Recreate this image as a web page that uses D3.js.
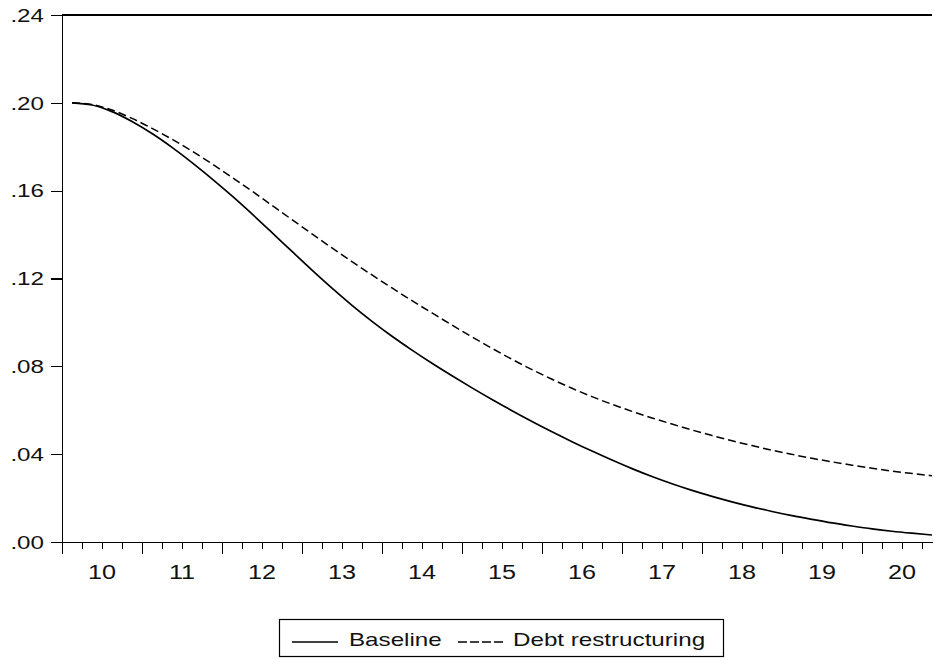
<!DOCTYPE html>
<html><head><meta charset="utf-8">
<script src="https://cdn.jsdelivr.net/npm/d3@7"></script>
<style>body{margin:0;background:#fff}svg{display:block}</style>
</head><body><svg id="c" width="934" height="659"></svg>
<script>
// ---- data ----
const yearLabels = ["10","11","12","13","14","15","16","17","18","19","20"];
const quartersPerYear = 4;
const baseline = [
  0.2000,0.1990,0.1960,0.1915,0.1860,0.1797,0.1728,0.1654,0.1576,0.1494,0.1409,
  0.1323,0.1238,0.1156,0.1078,0.1005,0.0937,0.0874,0.0814,0.0757,0.0702,0.0649,
  0.0598,0.0549,0.0502,0.0457,0.0414,0.0373,0.0334,0.0298,0.0265,0.0235,0.0208,
  0.0183,0.0160,0.0139,0.0120,0.0103,0.0087,0.0073,0.0060,0.0049,0.0040,0.0032
];
const restructuring = [
  0.2000,0.1992,0.1967,0.1929,0.1884,0.1834,0.1780,0.1722,0.1661,0.1598,0.1533,
  0.1468,0.1403,0.1339,0.1277,0.1216,0.1157,0.1099,0.1043,0.0988,0.0934,0.0882,
  0.0832,0.0785,0.0741,0.0700,0.0662,0.0627,0.0595,0.0565,0.0537,0.0510,0.0485,
  0.0461,0.0439,0.0418,0.0399,0.0381,0.0365,0.0350,0.0336,0.0323,0.0312,0.0302
];
const yTickValues = [0,0.04,0.08,0.12,0.16,0.20,0.24];
const yTickLabels = [".00",".04",".08",".12",".16",".20",".24"];
const seriesNames = ["Baseline","Debt restructuring"];

// ---- layout ----
const L = 62, R = 932, T = 15, B = 542;
const FONT = "'Liberation Sans', Arial, sans-serif";

const svg = d3.select("#c");
svg.append("rect").attr("width",934).attr("height",659).attr("fill","#fff");

const x = d3.scaleLinear().domain([-0.5, baseline.length - 1]).range([L, R]);
const y = d3.scaleLinear().domain([0, 0.24]).range([B, T]);

const boundaries = d3.range(0, baseline.length).map(k => k - 0.5);
const majorB = boundaries.filter((d,k) => k % quartersPerYear === 0);
const minorB = boundaries.filter((d,k) => k % quartersPerYear !== 0);

function styleAxis(g){
  g.selectAll("path,line").attr("stroke","#000").attr("stroke-width",1.2).attr("shape-rendering","crispEdges");
  g.selectAll("text").remove();
}

svg.append("g").attr("transform",`translate(0,${B})`)
  .call(d3.axisBottom(x).tickValues(minorB).tickSize(7).tickSizeOuter(0).tickFormat(""))
  .call(styleAxis);
svg.append("g").attr("transform",`translate(0,${B})`)
  .call(d3.axisBottom(x).tickValues(majorB).tickSize(12).tickSizeOuter(0).tickFormat(""))
  .call(g => g.select(".domain").remove())
  .call(styleAxis);

svg.append("g").attr("transform",`translate(${L},0)`)
  .call(d3.axisLeft(y).tickValues(yTickValues).tickSize(11).tickSizeOuter(0).tickFormat(""))
  .call(styleAxis);

svg.append("line").attr("x1",L).attr("x2",R).attr("y1",y(0.24)).attr("y2",y(0.24))
  .attr("stroke","#000").attr("stroke-width",1.4).attr("shape-rendering","crispEdges");

function stretchedText(px, py, txt, size, anchor, sx){
  const g = svg.append("g").attr("transform",`translate(${px},${py}) scale(${sx},1)`);
  g.append("text").text(txt).attr("font-family",FONT).attr("font-size",size)
    .attr("text-anchor",anchor).attr("fill","#111");
}

yTickValues.forEach((v,i) => stretchedText(44, y(v) + 6.7, yTickLabels[i], 18.6, "end", 1.3));
yearLabels.forEach((lab,i) => {
  const c = x(i*quartersPerYear - 0.5 + quartersPerYear/2);
  stretchedText(c, 579, lab, 21, "middle", 1.2);
});

const line = d3.line().x((d,i) => x(i)).y(d => y(d)).curve(d3.curveMonotoneX);
svg.append("path").datum(restructuring).attr("d",line).attr("fill","none")
  .attr("stroke","#000").attr("stroke-width",1.5).attr("stroke-dasharray","8,4");
svg.append("path").datum(baseline).attr("d",line).attr("fill","none")
  .attr("stroke","#000").attr("stroke-width",1.7);

svg.append("rect").attr("x",279.5).attr("y",619.5).attr("width",444).attr("height",37)
  .attr("fill","#fff").attr("stroke","#000").attr("stroke-width",1.2);
svg.append("line").attr("x1",292).attr("x2",338).attr("y1",642).attr("y2",642)
  .attr("stroke","#000").attr("stroke-width",1.5);
stretchedText(349, 646, seriesNames[0], 18.6, "start", 1.3);
svg.append("line").attr("x1",458).attr("x2",503).attr("y1",642).attr("y2",642)
  .attr("stroke","#000").attr("stroke-width",1.3).attr("stroke-dasharray","9,3");
stretchedText(513, 646, seriesNames[1], 18.6, "start", 1.3);
</script></body></html>
